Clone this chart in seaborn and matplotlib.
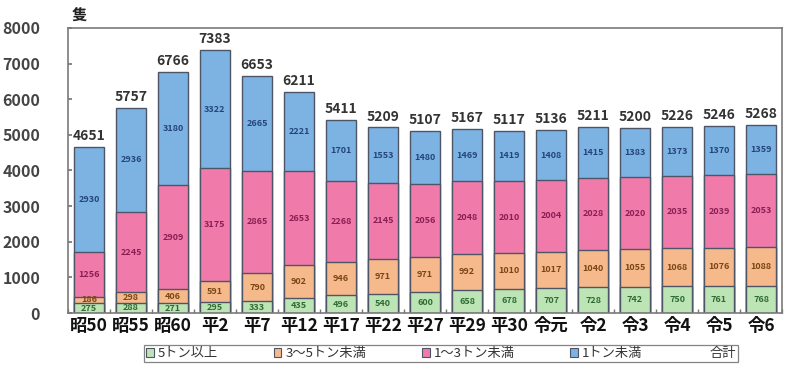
import numpy as np
import pandas as pd
import matplotlib
matplotlib.use("Agg")
import matplotlib.pyplot as plt
from matplotlib.patches import Patch
from matplotlib.lines import Line2D
import seaborn as sns

categories = ["昭50", "昭55", "昭60", "平2", "平7", "平12", "平17", "平22", "平27",
              "平29", "平30", "令元", "令2", "令3", "令4", "令5", "令6"]
over5 = [275, 288, 271, 295, 333, 435, 496, 540, 600, 658, 678, 707, 728, 742, 750, 761, 768]
t3to5 = [186, 298, 406, 591, 790, 902, 946, 971, 971, 992, 1010, 1017, 1040, 1055, 1068, 1076, 1088]
t1to3 = [1256, 2245, 2909, 3175, 2865, 2653, 2268, 2145, 2056, 2048, 2010, 2004, 2028, 2020, 2035, 2039, 2053]
under1 = [2930, 2936, 3180, 3322, 2665, 2221, 1701, 1553, 1480, 1469, 1419, 1408, 1415, 1383, 1373, 1370, 1359]
totals = [4651, 5757, 6766, 7383, 6653, 6211, 5411, 5209, 5107, 5167, 5117, 5136, 5211, 5200, 5226, 5246, 5268]
series_names = ["5トン以上", "3～5トン未満", "1～3トン未満", "1トン未満"]
yticks = [0, 1000, 2000, 3000, 4000, 5000, 6000, 7000, 8000]

colors = ["#bde4b4", "#f6b98c", "#f07bab", "#7db3e3"]
label_colors = ["#2f6b35", "#7a4712", "#8a1f52", "#24457a"]
edge = "#4d5566"

sns.set_theme(style="white")
plt.rcParams['font.family'] = ['Noto Sans CJK JP', 'DejaVu Sans']

fig = plt.figure(figsize=(7.89, 3.65), dpi=100)
ax = fig.add_axes([68/789, 1-313/365, (782-68)/789, (313-28)/365])

series = [over5, t3to5, t1to3, under1]
df = pd.DataFrame({"cat": categories})
cum = np.zeros(len(categories))
bottoms = []
for name, vals in zip(series_names, series):
    bottoms.append(cum.copy())
    cum = cum + np.array(vals)
    df[name] = cum.copy()

# draw cumulative bars from tallest to shortest
for i in range(3, -1, -1):
    sns.barplot(data=df, x="cat", y=series_names[i], order=categories, color=colors[i],
                width=0.7, edgecolor=edge, linewidth=1.0, saturation=1, ax=ax, zorder=2)

# segment labels
for i, vals in enumerate(series):
    for j, v in enumerate(vals):
        ax.text(j, bottoms[i][j] + v/2, str(v), ha="center", va="center",
                fontsize=6.5, color=label_colors[i], fontweight="bold", zorder=5)

# totals
for j, t in enumerate(totals):
    ax.text(j, t + 110, str(t), ha="center", va="bottom", fontsize=10,
            color="#333333", fontweight="bold", zorder=5)

ax.set_xlim(-0.5, len(categories) - 0.5)
ax.set_ylim(0, 8000)
ax.set_yticks(yticks)
ax.set_yticklabels([str(v) for v in yticks], fontsize=11.5, color="#444444", fontweight="bold")
ax.set_xticks(range(len(categories)))
ax.set_xticklabels(categories, fontsize=12.5, color="#111111", fontweight="bold")
ax.set_xticks(np.arange(-0.5, len(categories), 1.0), minor=True)
ax.tick_params(axis="y", which="major", direction="in", length=3, pad=20, color="#777777", left=True)
ax.tick_params(axis="x", which="major", length=0, pad=3)
ax.tick_params(axis="x", which="minor", direction="in", length=3, color="#777777", bottom=True)
ax.set_xlabel("")
ax.set_ylabel("")
for s in ax.spines.values():
    s.set_color("#7a7a7a")
    s.set_linewidth(1.2)

fig.text(72/789, 1-15/365, "隻", fontsize=11, fontweight="bold", color="#222222", va="center", ha="left")

handles = [Patch(facecolor=colors[i], edgecolor=edge, linewidth=0.8) for i in range(4)]
handles.append(Line2D([], [], linestyle="none"))
labels = series_names + ["合計"]
leg = fig.legend(handles, labels, loc="upper center", bbox_to_anchor=(441/789, 1-345/365),
                 ncol=5, fontsize=9.5, frameon=True, fancybox=False, handlelength=0.6,
                 handleheight=0.6, handletextpad=0.3, columnspacing=4.2, borderpad=0.15,
                 borderaxespad=0, labelcolor="#333333")
leg.get_frame().set_edgecolor("#666666")
leg.get_frame().set_linewidth(0.9)

fig.savefig("out.png", dpi=100)
